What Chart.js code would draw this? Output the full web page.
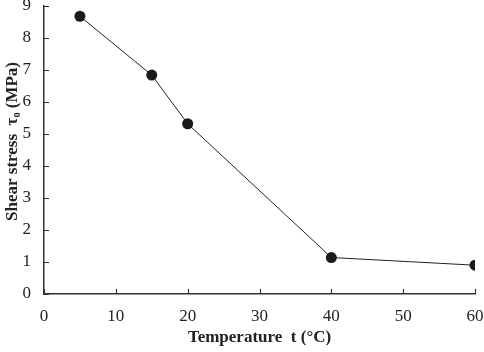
<!DOCTYPE html>
<html>
<head>
<meta charset="utf-8">
<script src="https://cdn.jsdelivr.net/npm/chart.js@4"></script>
<style>
    html, body { margin: 0; padding: 0; background: #fff; }
    #wrap { width: 484px; height: 352px; }
</style>
</head>
<body>
<div id="wrap"><canvas id="shearChart"></canvas></div>
<script>
// Shear stress vs temperature
const temperatures = [5, 15, 20, 40, 60];
const shearStress = [8.68, 6.84, 5.32, 1.14, 0.9];
const xTicks = [0, 10, 20, 30, 40, 50, 60];
const yTicks = [0, 1, 2, 3, 4, 5, 6, 7, 8, 9];

// draw short tick marks pointing into the plot area
const innerTicks = {
    id: 'innerTicks',
    afterDraw(chart) {
        const ctx = chart.ctx;
        const x = chart.scales.x, y = chart.scales.y;
        ctx.save();
        ctx.strokeStyle = '#333';
        ctx.lineWidth = 1.2;
        ctx.beginPath();
        xTicks.forEach(v => {
            const px = Math.round(x.getPixelForValue(v)) + 0.5;
            ctx.moveTo(px, y.bottom);
            ctx.lineTo(px, y.bottom - 5);
        });
        yTicks.forEach(v => {
            const py = Math.round(y.getPixelForValue(v)) + 0.5;
            ctx.moveTo(x.left, py);
            ctx.lineTo(x.left + 5, py);
        });
        ctx.stroke();
        ctx.restore();
    }
};

document.addEventListener('DOMContentLoaded', function() {
    const ctx = document.getElementById('shearChart');
    new Chart(ctx, {
        type: 'scatter',
        data: {
            datasets: [{
                data: temperatures.map((t, i) => ({ x: t, y: shearStress[i] })),
                showLine: true,
                borderColor: '#222',
                borderWidth: 1,
                backgroundColor: '#1a1a1a',
                pointRadius: 5.5,
                pointBorderWidth: 0
            }]
        },
        options: {
            responsive: true,
            maintainAspectRatio: false,
            animation: false,
            layout: {
                padding: { top: 0, right: 0, left: 2, bottom: 4 }
            },
            plugins: {
                legend: { display: false },
                tooltip: { enabled: false }
            },
            scales: {
                x: {
                    type: 'linear',
                    min: 0,
                    max: 60,
                    afterBuildTicks: s => { s.ticks = xTicks.map(v => ({ value: v })); },
                    afterFit: s => { s.height = 54; s.paddingRight = 9; },
                    grid: { display: false, drawTicks: false },
                    border: { display: true, color: '#333', width: 1.5 },
                    ticks: {
                        color: '#222',
                        padding: 12,
                        font: { family: 'Liberation Serif', size: 17 }
                    },
                    title: {
                        display: true,
                        text: 'Temperature  t (°C)',
                        color: '#222',
                        padding: { top: 4, bottom: 0 },
                        font: { family: 'Liberation Serif', size: 17, weight: 'bold' }
                    }
                },
                y: {
                    min: 0,
                    max: 9,
                    afterBuildTicks: s => { s.ticks = yTicks.map(v => ({ value: v })); },
                    afterFit: s => { s.width = 42; s.paddingTop = 6; },
                    grid: { display: false, drawTicks: false },
                    border: { display: true, color: '#333', width: 1.5 },
                    ticks: {
                        color: '#222',
                        padding: 13,
                        font: { family: 'Liberation Serif', size: 17 }
                    },
                    title: {
                        display: true,
                        text: '    Shear stress  τ₀ (MPa)',
                        color: '#222',
                        padding: { top: 0, bottom: 0 },
                        font: { family: 'Liberation Serif', size: 17, weight: 'bold' }
                    }
                }
            }
        },
        plugins: [innerTicks]
    });
});
</script>
</body>
</html>
